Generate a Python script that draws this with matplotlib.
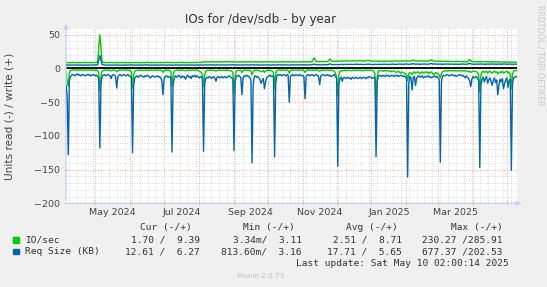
import numpy as np
import matplotlib
matplotlib.use("Agg")
import matplotlib.pyplot as plt
import matplotlib.dates as mdates
from matplotlib.patches import Rectangle

# time span of the munin "by year" graph
start = np.datetime64("2024-04-05T02:00")
end = np.datetime64("2025-05-10T02:00")

# Req Size (KB), read side (drawn negative), one value per day
req_read = [
    25, 40, 128, 18, 12, 10, 9, 10, 11, 9, 8, 10, 9, 11, 10, 9, 10, 11, 10, 9,
    10, 9, 11, 10, 9, 10, 11, 10, 12, 14, 118, 24, 12, 10, 9, 11, 10, 9, 10, 11,
    15, 10, 9, 10, 12, 29, 13, 10, 9, 11, 10, 9, 10, 11, 10, 9, 11, 12, 14, 125,
    26, 14, 12, 11, 13, 12, 10, 11, 12, 13, 11, 12, 10, 11, 13, 14, 12, 11, 12, 13,
    12, 11, 13, 12, 14, 18, 39, 15, 12, 11, 12, 13, 12, 14, 124, 24, 14, 11, 13, 12,
    10, 12, 14, 11, 13, 12, 16, 12, 10, 13, 12, 15, 11, 12, 10, 13, 11, 12, 14, 13,
    12, 16, 123, 22, 15, 13, 14, 12, 13, 15, 13, 12, 14, 19, 13, 12, 14, 13, 12, 14,
    13, 12, 14, 13, 12, 11, 13, 14, 16, 122, 20, 12, 11, 10, 12, 13, 39, 14, 11, 12,
    10, 11, 12, 13, 18, 140, 24, 12, 11, 13, 12, 14, 16, 22, 18, 15, 30, 20, 14, 12,
    11, 10, 12, 11, 13, 131, 22, 11, 9, 10, 9, 11, 10, 9, 10, 11, 9, 10, 50, 12,
    10, 9, 11, 10, 9, 10, 11, 9, 10, 11, 10, 12, 45, 12, 10, 9, 11, 10, 9, 10,
    11, 10, 9, 10, 12, 24, 11, 10, 9, 10, 11, 10, 9, 11, 10, 12, 11, 10, 9, 12,
    14, 145, 24, 15, 13, 19, 14, 13, 15, 14, 13, 15, 14, 16, 13, 14, 15, 13, 14, 15,
    14, 13, 15, 14, 13, 14, 15, 13, 14, 12, 13, 14, 15, 13, 14, 131, 20, 11, 10, 11,
    12, 10, 11, 12, 10, 11, 10, 12, 11, 10, 11, 12, 10, 11, 10, 12, 11, 10, 11, 12,
    11, 13, 14, 161, 22, 12, 14, 32, 13, 12, 25, 14, 12, 11, 13, 12, 11, 14, 12, 13,
    12, 11, 13, 12, 14, 13, 12, 11, 13, 12, 14, 16, 139, 20, 11, 10, 11, 10, 9, 10,
    11, 10, 9, 10, 11, 10, 12, 11, 10, 9, 10, 11, 10, 12, 14, 11, 13, 15, 18, 27,
    16, 12, 14, 13, 12, 15, 18, 147, 24, 16, 13, 20, 15, 12, 22, 17, 14, 19, 25, 18,
    14, 21, 17, 39, 24, 16, 20, 15, 30, 22, 17, 14, 28, 18, 16, 151, 22, 14, 13, 12,
    13,
]

# IO/sec, read side (drawn negative), one value per day
io_read = [
    5, 20, 26, 6, 3, 2.5, 2, 2.5, 3, 2, 2.5, 3, 2, 2.5, 2, 3, 2.5, 2, 3, 2.5,
    2, 2.5, 3, 2, 2.5, 3, 2.5, 2, 3, 6, 33, 12, 4, 3, 2.5, 2, 3, 2.5, 2, 3,
    3.5, 2.5, 2, 3, 2.5, 5, 3, 2.5, 2, 3, 2.5, 2, 3, 2.5, 2, 3, 2.5, 3, 6, 29,
    9, 4, 3, 2.5, 3, 2.5, 2, 3, 2.5, 3, 2.5, 2, 3, 2.5, 3, 2, 2.5, 3, 2.5, 2,
    3, 2.5, 2, 3, 2.5, 3, 6, 3, 2.5, 2, 3, 2.5, 3, 5, 27, 10, 4, 3, 2.5, 2,
    3, 2.5, 3, 2, 2.5, 3, 3.5, 2.5, 2, 3, 2.5, 3, 2, 2.5, 3, 2.5, 2, 3, 4, 5,
    6, 10, 27, 9, 4, 3, 2.5, 3, 2, 2.5, 3, 2.5, 3, 4, 3, 2.5, 2, 3, 2.5, 3,
    2.5, 3, 2, 3, 2.5, 3, 3.5, 4, 6, 37, 12, 4, 3, 2.5, 3, 2.5, 6, 3, 2.5, 2,
    3, 2.5, 3, 2.5, 4, 9, 5, 3, 2.5, 3, 2.5, 3, 4, 5, 4, 3, 6, 4, 3, 2.5,
    3, 2.5, 3, 4, 6, 30, 8, 3, 2.5, 2, 2.5, 3, 2, 2.5, 3, 2.5, 2, 3, 7, 3,
    2.5, 2, 3, 2.5, 2, 3, 2.5, 2, 3, 2.5, 2, 3, 6, 3, 2.5, 2, 3, 2.5, 2, 3,
    2.5, 3, 2, 2.5, 3, 4, 2.5, 3, 2, 2.5, 3, 2.5, 2, 3, 2.5, 3, 2.5, 3, 4, 7,
    14, 41, 10, 4, 3, 4, 3, 2.5, 3, 2.5, 3, 2.5, 3, 3.5, 3, 2.5, 3, 2.5, 3, 2.5,
    3, 2.5, 3, 3.5, 3, 2.5, 3, 2.5, 3, 2.5, 3, 2.5, 3, 4, 8, 48, 12, 4, 3, 3.5,
    3, 4, 3.5, 3, 4, 3.5, 3, 4, 5, 4, 3.5, 4, 5, 6, 5, 4, 6, 7, 5, 6,
    7, 8, 9, 18, 8, 6, 7, 9, 6, 5, 7, 6, 5, 6, 8, 6, 5, 7, 6, 5,
    6, 5, 8, 6, 5, 7, 9, 8, 6, 7, 8, 10, 14, 7, 5, 4, 3.5, 3, 4, 3.5,
    3, 3.5, 4, 3, 3.5, 3, 4, 3.5, 3, 4, 3, 3.5, 4, 3, 4, 3.5, 4, 5, 4, 6,
    5, 4, 4.5, 4, 5, 6, 9, 35, 10, 5, 4, 6, 5, 4, 7, 5, 4, 6, 7, 5,
    4, 6, 5, 8, 6, 5, 6, 4, 7, 6, 5, 4, 7, 5, 9, 30, 8, 4, 3, 3.5,
    3,
]

# IO/sec, write side, one value per two days
io_write = [
    8.5, 8.8, 8.6, 8.9, 8.7, 8.5, 8.8, 8.6, 9.0, 8.7, 8.9, 8.6, 8.8, 8.7, 9.0, 50, 9.5, 8.8, 8.6, 8.7,
    8.9, 8.6, 8.8, 8.5, 8.7, 8.9, 8.6, 8.8, 8.5, 8.7, 8.6, 8.9, 8.7, 8.5, 8.8, 8.6, 9.3, 8.7, 8.9, 8.6,
    8.8, 8.7, 8.9, 8.6, 8.8, 9.0, 8.7, 8.9, 8.6, 8.8, 8.7, 9.1, 8.8, 8.9, 8.6, 8.8, 8.7, 9.0, 8.8, 8.9,
    9.2, 9.5, 9.8, 9.6, 9.9, 10.1, 9.7, 10.0, 9.8, 9.6, 9.9, 10.2, 9.8, 9.7, 10.0, 9.8, 9.6, 9.9, 9.7, 9.8,
    9.6, 9.9, 9.7, 9.8, 10.0, 9.7, 9.9, 9.6, 9.8, 10.0, 9.7, 9.9, 9.8, 9.6, 9.9, 9.7, 10.0, 9.8, 9.7, 9.9,
    9.8, 10.0, 9.7, 9.9, 9.8, 10.1, 9.9, 9.7, 10.0, 9.8, 15.5, 10.2, 10.0, 10.3, 10.1, 10.4, 10.2, 14.0, 10.6, 10.8,
    11.0, 10.7, 11.2, 10.9, 11.3, 11.0, 11.4, 11.1, 11.5, 11.2, 11.6, 11.3, 11.0, 11.4, 12.0, 11.2, 10.8, 11.0, 10.6, 10.9,
    10.5, 10.8, 10.6, 11.0, 10.7, 10.9, 11.2, 10.8, 11.1, 10.9, 11.4, 11.0, 11.3, 11.1, 12.5, 11.2, 11.0, 11.5, 11.2, 11.0,
    10.8, 11.2, 12.8, 11.0, 10.7, 10.9, 10.6, 10.8, 10.5, 10.7, 10.4, 10.6, 10.3, 10.5, 10.2, 10.4, 10.1, 10.3, 10.0, 13.5,
    10.2, 10.0, 10.3, 9.9, 10.1, 10.4, 9.9, 10.1, 9.8, 10.0, 9.7, 9.9, 9.6, 9.8, 9.5, 9.7, 9.4, 9.6, 9.3, 9.5,
    9.2,
]

# Req Size (KB), write side, one value per two days
req_write = [
    5.0, 5.1, 4.9, 5.0, 5.2, 4.9, 5.0, 5.1, 4.8, 5.0, 5.1, 4.9, 5.0, 5.2, 5.3, 19, 6.0, 5.1, 4.9, 5.0,
    5.0, 4.9, 5.1, 5.0, 4.8, 5.0, 5.1, 4.9, 5.0, 5.2, 4.9, 5.0, 5.1, 4.9, 5.0, 5.1, 5.3, 5.0, 4.9, 5.0,
    5.1, 4.9, 5.0, 5.2, 4.9, 5.0, 5.1, 4.8, 5.0, 5.1, 4.9, 5.0, 5.2, 4.9, 5.0, 5.1, 5.0, 4.9, 5.1, 5.0,
    5.2, 5.0, 5.3, 5.1, 5.4, 5.2, 5.0, 5.3, 5.1, 5.2, 5.0, 5.3, 5.1, 5.2, 5.4, 5.1, 5.3, 5.0, 5.2, 5.1,
    5.3, 5.1, 5.2, 5.4, 5.1, 5.3, 5.0, 5.2, 5.1, 5.3, 5.2, 5.0, 5.3, 5.1, 5.2, 5.4, 5.1, 5.3, 5.2, 5.0,
    5.2, 5.4, 5.1, 5.3, 5.2, 5.5, 5.3, 5.1, 5.4, 5.2, 6.5, 5.4, 5.6, 5.3, 5.5, 5.7, 5.4, 6.8, 5.6, 5.8,
    5.9, 5.6, 6.0, 5.8, 6.1, 5.9, 6.2, 5.8, 6.0, 6.3, 5.9, 6.1, 5.8, 6.0, 6.4, 6.0, 5.8, 6.1, 5.9, 6.2,
    6.0, 6.3, 6.1, 5.9, 6.2, 6.4, 6.0, 6.2, 6.5, 6.1, 6.3, 6.6, 6.2, 6.4, 7.0, 6.3, 6.5, 6.2, 6.4, 6.6,
    6.3, 6.5, 7.2, 6.4, 6.6, 6.3, 6.5, 6.2, 6.4, 6.6, 6.3, 6.5, 6.2, 6.4, 6.1, 6.3, 6.5, 6.2, 6.4, 7.5,
    6.4, 6.2, 6.5, 6.3, 6.6, 6.4, 6.2, 6.5, 6.3, 6.6, 6.4, 6.2, 6.5, 6.3, 6.6, 6.4, 6.3, 6.5, 6.2, 6.4,
    6.3,
]

series_names = ["IO/sec", "Req Size (KB)"]
series_colors = ["#00CC00", "#0066B3"]
# (read, write) pairs for the legend table
cur_vals = [(1.70, 9.39), (12.61, 6.27)]
min_vals = [(0.00334, 3.11), (0.8136, 3.16)]
avg_vals = [(2.51, 8.71), (17.71, 5.65)]
max_vals = [(230.27, 285.91), (677.37, 202.53)]

label_months = ["2024-05", "2024-07", "2024-09", "2024-11", "2025-01", "2025-03"]
label_texts = ["May 2024", "Jul 2024", "Sep 2024", "Nov 2024", "Jan 2025", "Mar 2025"]

W, H = 547, 287
GRID_MINOR = "#d8d8d8"
GRID_MAJOR = "#f2a8a8"
AXIS_COL = "#c8cef4"
TXT = "#333333"


def fx(px):
    return px / W


def fy(py):
    return 1 - py / H


def si(v):
    if v != 0 and abs(v) < 1:
        return f"{v * 1000:.2f}m"
    return f"{v:.2f} "


def pair(p):
    return f"{si(p[0])}/{si(p[1]).rstrip():>6}"


fig = plt.figure(figsize=(W / 100, H / 100), dpi=100, facecolor="#F0F0F0")
ax = fig.add_axes([fx(66), fy(203.3), fx(517) - fx(66), fy(28) - fy(203.3)])
ax.set_facecolor("white")

day = np.timedelta64(1, "D")
t_daily = start + np.arange(len(req_read)) * day
t_two = start + np.arange(len(io_write)) * 2 * day

ax.axhline(0, color="black", lw=1.3, zorder=2)
ax.plot(t_daily, -np.array(io_read), color=series_colors[0], lw=1.0, zorder=3)
ax.plot(t_two, io_write, color=series_colors[0], lw=1.0, zorder=3)
ax.plot(t_daily, -np.array(req_read), color=series_colors[1], lw=1.0, zorder=4)
ax.plot(t_two, req_write, color=series_colors[1], lw=1.0, zorder=4)

ax.set_xlim(start, end)
ax.set_ylim(-200, 60)

# grid: red at month starts / every 50, grey weekly / every 10
ax.xaxis.set_major_locator(mdates.MonthLocator())
ax.xaxis.set_minor_locator(mdates.WeekdayLocator(byweekday=mdates.MO))
ax.xaxis.set_major_formatter(plt.NullFormatter())
ax.set_yticks(np.arange(-200, 51, 50))
ax.set_yticks(np.arange(-200, 61, 10), minor=True)
ax.grid(which="minor", color=GRID_MINOR, linestyle=(0, (1, 1.5)), lw=0.7)
ax.grid(which="major", color=GRID_MAJOR, linestyle=(0, (1, 1.5)), lw=0.7)
ax.set_axisbelow(True)
ax.tick_params(which="major", axis="both", length=2.5, width=0.6, color=GRID_MAJOR,
               direction="inout", labelsize=6.8, labelcolor="#444444", pad=3)
ax.tick_params(which="minor", axis="both", length=1.5, width=0.6, color=GRID_MINOR, direction="inout")

for s in ["top", "right", "left", "bottom"]:
    ax.spines[s].set_visible(False)
ax.annotate("", xy=(0, 1.04), xytext=(0, 0), xycoords="axes fraction",
            arrowprops=dict(arrowstyle="-|>", color=AXIS_COL, lw=0.9, mutation_scale=7))
ax.annotate("", xy=(1.016, 0), xytext=(0, 0), xycoords="axes fraction",
            arrowprops=dict(arrowstyle="-|>", color=AXIS_COL, lw=0.9, mutation_scale=7))

# month labels sit in the middle of their month
for m, lab in zip(label_months, label_texts):
    m0 = np.datetime64(m, "M")
    mid = m0.astype("datetime64[m]") + ((m0 + 1).astype("datetime64[m]") - m0.astype("datetime64[m]")) / 2
    ax.text(mdates.date2num(mid), -0.05, lab, transform=ax.get_xaxis_transform(),
            ha="center", va="center", fontsize=6.8, color="#444444")

fig.text(fx(261), fy(19.5), "IOs for /dev/sdb - by year", ha="center", va="center",
         fontsize=8.6, color=TXT)
fig.text(fx(10), fy(116), "Units read (-) / write (+)", rotation=90, ha="center", va="center",
         fontsize=7.6, color="#444444")
fig.text(fx(540), fy(5), "RRDTOOL / TOBI OETIKER", rotation=270, ha="center", va="top",
         fontsize=5.7, color="#c8c8c8")

# legend table
mono = dict(family="DejaVu Sans Mono", fontsize=6.8, color=TXT, va="center")
for head, xr in zip(["Cur (-/+)", "Min (-/+)", "Avg (-/+)", "Max (-/+)"], [191.7, 295, 398, 503]):
    fig.text(fx(xr), fy(227.3), head, ha="right", **mono)
for i, yy in enumerate([240, 251.7]):
    fig.patches.append(Rectangle((fx(13.3), fy(yy + 2.6)), 5.2 / W, 5.2 / H,
                                 transform=fig.transFigure, color=series_colors[i]))
    fig.text(fx(25), fy(yy), series_names[i], ha="left", **mono)
    for vals, xr in zip([cur_vals, min_vals, avg_vals, max_vals], [200, 301.7, 401.7, 502.7]):
        fig.text(fx(xr), fy(yy), pair(vals[i]), ha="right", **mono)
fig.text(fx(509), fy(263.3), "Last update: Sat May 10 02:00:14 2025", ha="right", **mono)
fig.text(fx(261), fy(276), "Munin 2.0.73", ha="center", va="center", fontsize=5.2, color="#c0c0c0")

fig.savefig("out.png", dpi=100, facecolor=fig.get_facecolor())
